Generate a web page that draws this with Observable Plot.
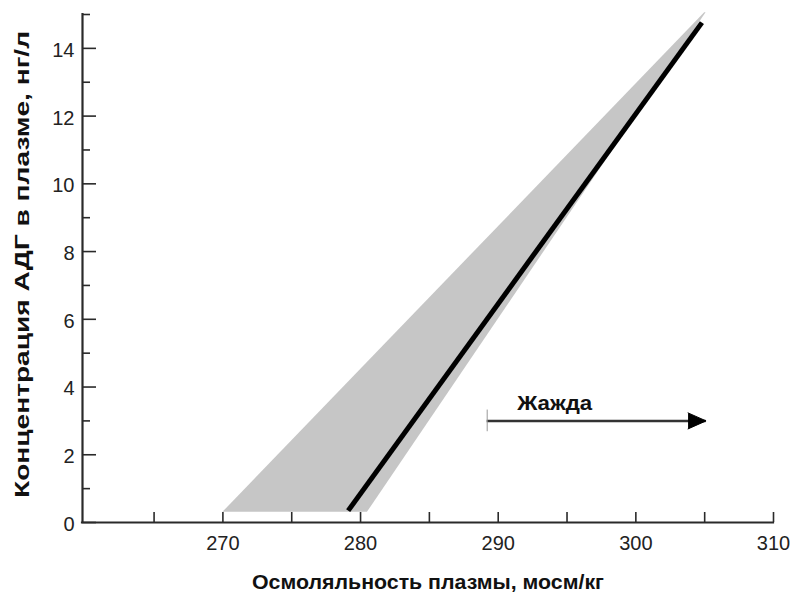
<!DOCTYPE html>
<html><head><meta charset="utf-8">
<script src="https://cdn.jsdelivr.net/npm/d3@7"></script>
<script src="https://cdn.jsdelivr.net/npm/@observablehq/plot@0.6"></script>
<style>body{margin:0;background:#fff}</style>
</head><body><div id="chart"></div>
<script>
// Scales
const xDomain = [259.8, 310];
const yDomain = [0, 15];
const xTicks = [265, 270, 275, 280, 285, 290, 295, 300, 305, 310];
const xTickLabels = [270, 280, 290, 300, 310];
const yMajorTicks = [0, 2, 4, 6, 8, 10, 12, 14];
const yMinorTicks = [1, 3, 5, 7, 9, 11, 13, 15];
// Shaded band (range of normal responses)
const bandY = [0.3, 15.05];
const bandLow = [270, 305];
const bandHigh = [280.5, 305.1];
// Mean regression line
const lineX = [279.1, 304.8];
const lineY = [0.35, 14.76];
// Thirst threshold arrow
const thirstStart = [289.2];
const thirstEnd = [305.1];
const thirstLevel = [3];
const thirstTickLow = [2.68];
const thirstTickHigh = [3.32];
const thirstLabel = ["Жажда"];
const thirstLabelX = [294.1];
// Texts
const xLabel = "Осмоляльность плазмы, мосм/кг";
const yLabel = "Концентрация АДГ в плазме, нг/л";

const W = 792, H = 595, mL = 82, mR = 19, mT = 14, mB = 73;
const frameW = W - mL - mR, frameH = H - mT - mB;
const font = "'Liberation Sans', Arial, Helvetica, sans-serif";
const axisColor = "#2a2a2a";

const band = bandY.map((y, i) => ({y, x1: bandLow[i], x2: bandHigh[i]}));
const line = lineX.map((x, i) => ({x, y: lineY[i]}));
const arrow = thirstStart.map((s, i) => ({x1: s, x2: thirstEnd[i], y: thirstLevel[i], y1: thirstTickLow[i], y2: thirstTickHigh[i], label: thirstLabel[i], lx: thirstLabelX[i]}));

const chart = Plot.plot({
  width: W, height: H,
  marginLeft: mL, marginRight: mR, marginTop: mT, marginBottom: mB,
  style: {fontFamily: font, background: "#fff", color: "#222", overflow: "visible"},
  x: {domain: xDomain, axis: null},
  y: {domain: yDomain, axis: null},
  marks: [
    Plot.areaX(band, {y: "y", x1: "x1", x2: "x2", fill: "#c6c6c6", clip: false}),
    Plot.line(line, {x: "x", y: "y", stroke: "#000", strokeWidth: 5, strokeLinecap: "butt"}),
    // arrow
    Plot.ruleY(arrow, {x1: "x1", x2: "x2", y: "y", stroke: "#333", strokeWidth: 2.5}),
    Plot.ruleX(arrow, {x: "x1", y1: "y1", y2: "y2", stroke: "#999", strokeWidth: 1}),
    Plot.vector(arrow, {x: "x2", y: "y", length: 18, rotate: 90, shape: "spike", r: 8, anchor: "end", fill: "#000", stroke: "#000", strokeWidth: 1}),
    Plot.text(arrow, {x: "lx", y: "y", text: "label", dy: -17, fontSize: 20, fontWeight: "bold", fill: "#111", lineAnchor: "middle", className: "lbl-thirst"}),
    // axis lines
    Plot.ruleX([xDomain[0]], {stroke: axisColor, strokeWidth: 2.2, strokeLinecap: "square"}),
    Plot.ruleY([yDomain[0]], {stroke: axisColor, strokeWidth: 2.2, strokeLinecap: "square"}),
    // ticks (pointing inward)
    Plot.tickX(xTicks, {x: d => d, insetTop: frameH - 10, stroke: axisColor, strokeWidth: 1.6}),
    Plot.tickY(yMajorTicks, {y: d => d, insetRight: frameW - 14, stroke: axisColor, strokeWidth: 1.6}),
    Plot.tickY(yMinorTicks, {y: d => d, insetRight: frameW - 8, stroke: axisColor, strokeWidth: 1.6}),
    // tick labels
    Plot.axisX(xTickLabels, {tickSize: 0, tickPadding: 13, fontSize: 20, fill: "#222", label: null}),
    Plot.axisY(yMajorTicks, {tickSize: 0, tickPadding: 8, fontSize: 20, fill: "#222", dy: 2, label: null}),
    // axis titles
    Plot.text([xLabel], {text: d => d, frameAnchor: "bottom", dy: 60, fontSize: 19.5, fontWeight: "bold", fill: "#111", lineAnchor: "middle", className: "lbl-x"}),
    Plot.text([yLabel], {text: d => d, frameAnchor: "left", textAnchor: "middle", dx: -60, dy: -4, rotate: -90, fontSize: 21, fontWeight: "bold", fill: "#111", lineAnchor: "middle", className: "lbl-y"})
  ]
});
// widen the bold labels to match the reference's wide typeface
const stretch = {"lbl-x": 352, "lbl-y": 467, "lbl-thirst": 75};
for (const [cls, len] of Object.entries(stretch)) {
  d3.select(chart).selectAll(`g.${cls} text`).attr("textLength", len).attr("lengthAdjust", "spacingAndGlyphs");
}
document.getElementById("chart").appendChild(chart);
</script>
</body></html>
